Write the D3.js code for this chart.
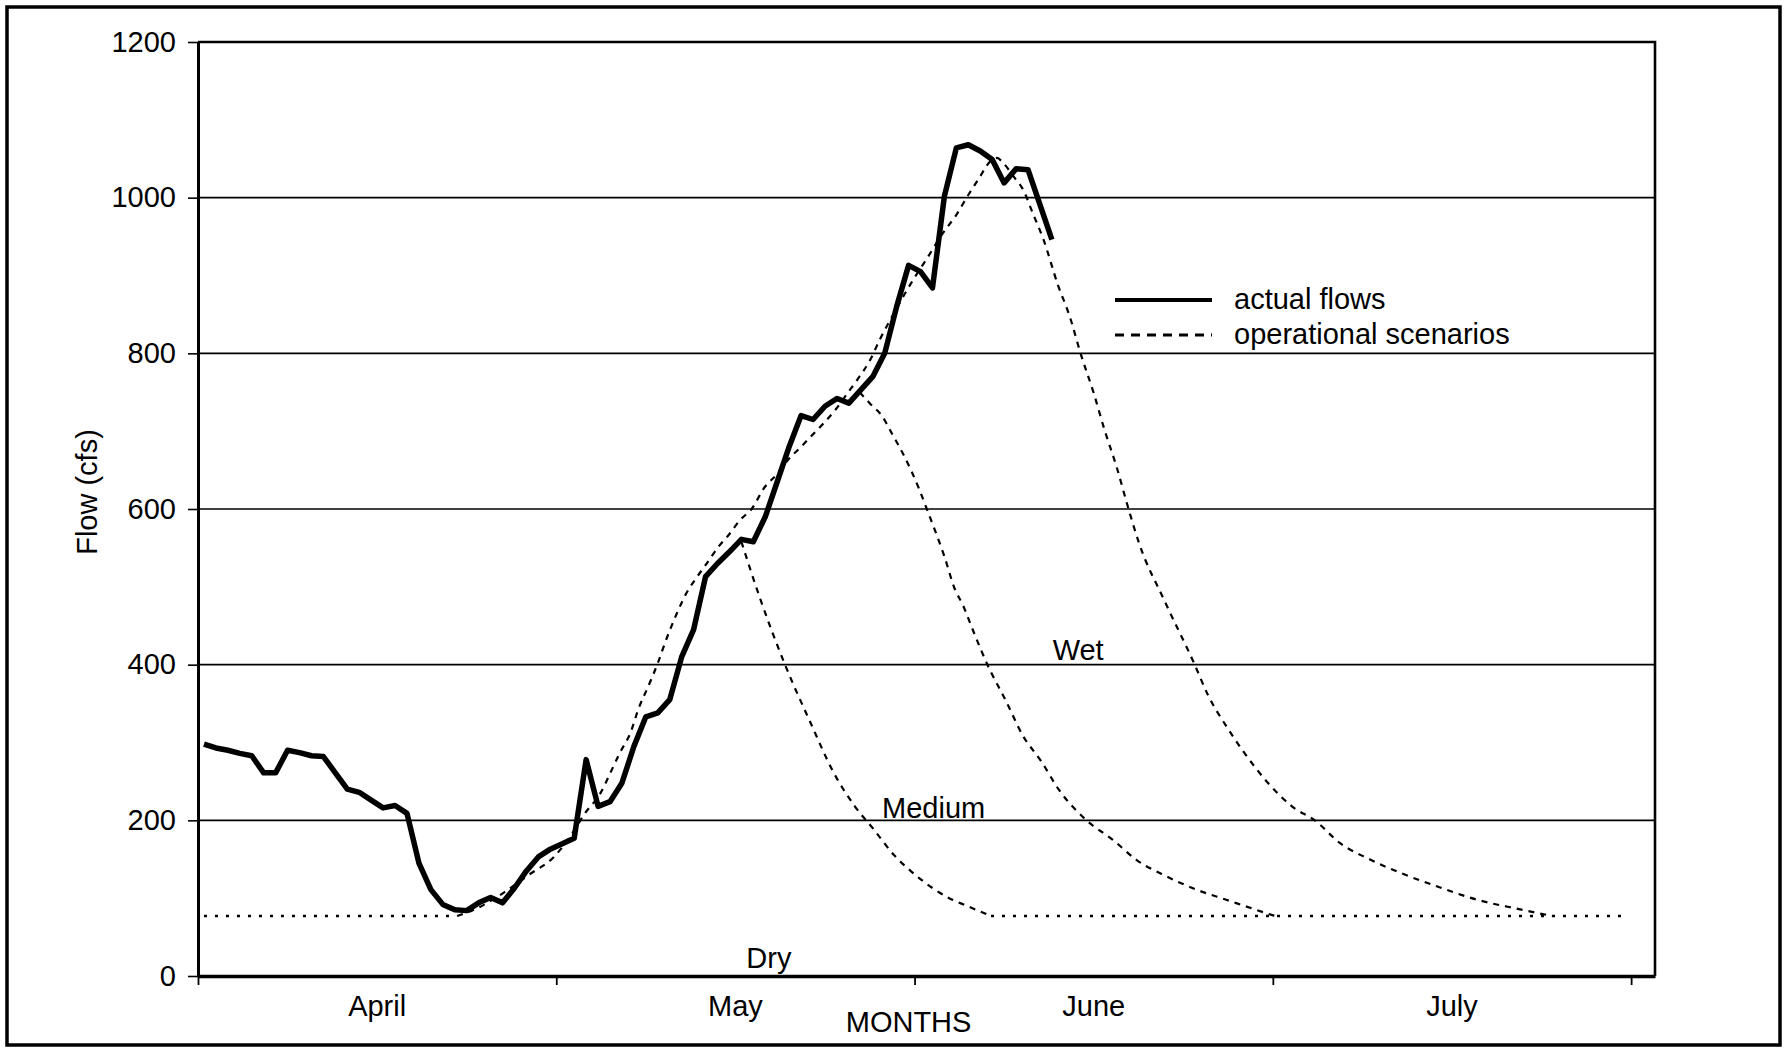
<!DOCTYPE html>
<html>
<head>
<meta charset="utf-8">
<script src="https://cdn.jsdelivr.net/npm/d3@7"></script>
<style>
body { margin: 0; background: #fff; }
text { font-family: "Liberation Sans", Arial, Helvetica, sans-serif; font-size: 29px; fill: #000; }
</style>
</head>
<body>
<svg width="1788" height="1049"></svg>
<script>
// daily flows (one value per day from April 1)
var months = ["April", "May", "June", "July"];
var monthTicks = [0, 30, 60, 90, 120];
var flowTicks = [0, 200, 400, 600, 800, 1000, 1200];

var actualFlows = [
  298, 293, 290, 286, 283, 261, 261, 290, 287, 283,
  282, 261, 240, 236, 226, 216, 219, 209, 145, 111,
   92,  85,  84,  94, 101,  94, 113, 135, 153, 163,
  170, 177, 278, 218, 224, 248, 295, 333, 338, 355,
  410, 445, 513, 530, 545, 561, 558, 590, 635, 680,
  720, 715, 732, 742, 736, 753, 770, 800, 860, 913,
  905, 884, 1002, 1064, 1068, 1060, 1049, 1019, 1037, 1036,
  991, 946
];

// operational scenarios (day, cfs)
var wetDays = [21.7, 23.5, 25.7, 27.7, 29.8, 31.2, 32.4, 33.7, 34.5, 35.3, 36.2, 36.9, 37.7, 38.5, 39.2, 40.1, 40.9, 41.8, 42.6, 43.6,
  44.4, 45.4, 46.4, 47.4, 48.5, 49.4, 50.5, 51.5, 52.5, 53.5, 54.3, 55.2, 56.3, 57.1, 58.4, 59.9, 61.0, 62.4, 63.5, 64.4,
  65.4, 66.3, 66.9, 67.4, 68.3, 69.1, 69.9, 70.8, 72.0, 73.0, 73.9, 75.0, 75.9, 76.9, 77.9, 78.8, 80.9, 83.4, 84.6, 86.1,
  87.6, 89.6, 91.6, 93.6, 95.6, 98.1, 100.6, 103.6, 107.1, 110.6, 113.4];
var wetFlows = [77, 88, 108, 130, 153, 180, 209, 235, 260, 286, 312, 344, 372, 402, 432, 466, 492, 513, 530, 552,
  566, 586, 601, 627, 645, 663, 680, 696, 712, 730, 747, 766, 792, 818, 855, 895, 921, 955, 978, 1001,
  1025, 1046, 1051, 1045, 1027, 1010, 980, 946, 888, 847, 800, 749, 702, 655, 601, 556, 483, 402, 360, 321,
  287, 248, 218, 199, 171, 150, 133, 116, 98, 86, 77];

var mediumDays = [55.4, 56.3, 57.3, 58.1, 59.0, 60.4, 61.0, 62.5, 63.4, 64.0, 65.0, 66.1, 67.6, 69.1, 70.6, 72.1, 74.4, 76.6,
  78.6, 81.1, 83.6, 86.1, 88.6, 90.2];
var mediumFlows = [750, 735, 719, 697, 672, 625, 601, 539, 496, 478, 440, 400, 355, 308, 276, 239, 200, 175,
  149, 128, 111, 98, 85, 77];

var dryDays = [45.5, 47.0, 49.1, 51.3, 53.2, 55.0, 56.6, 58.3, 59.6, 61.6, 62.9, 64.4, 66.4];
var dryFlows = [558, 488, 402, 325, 262, 218, 188, 155, 136, 112, 100, 90, 77];

var minFlowDays = [0.5, 21.7, 66.4, 119.6];
var minFlowValues = [77, 77, 77, 77];

var scenarioLabels = ["Dry", "Medium", "Wet"];

var svg = d3.select("svg"),
    margin = {top: 42, right: 133, bottom: 73, left: 198},
    width = +svg.attr("width") - margin.left - margin.right,
    height = +svg.attr("height") - margin.top - margin.bottom;

svg.append("rect")
    .attr("x", 7).attr("y", 7)
    .attr("width", 1773).attr("height", 1038)
    .attr("fill", "#fff")
    .attr("stroke", "#000")
    .attr("stroke-width", 3.5);

var g = svg.append("g").attr("transform", "translate(" + margin.left + "," + margin.top + ")");

var x = d3.scaleLinear().domain([0, 122]).range([0, width]);
var y = d3.scaleLinear().domain([0, 1200]).range([height, 0]);

// gridlines
g.append("g")
  .selectAll("line")
  .data(flowTicks.slice(1, -1))
  .enter().append("line")
    .attr("x1", 0).attr("x2", width)
    .attr("y1", function(d) { return y(d); })
    .attr("y2", function(d) { return y(d); })
    .attr("stroke", "#000")
    .attr("stroke-width", 1.6);

// plot frame, top and right
g.append("path")
    .attr("d", "M0," + y(1200) + "H" + width + "V" + height)
    .attr("fill", "none")
    .attr("stroke", "#000")
    .attr("stroke-width", 2.6);

var yAxis = g.append("g")
    .call(d3.axisLeft(y).tickValues(flowTicks).tickFormat(d3.format("d"))
      .tickSize(10).tickSizeOuter(0).tickPadding(12));
yAxis.select(".domain").attr("stroke-width", 3);
yAxis.selectAll(".tick line").attr("stroke-width", 1.6);
yAxis.selectAll("text").attr("font-size", null).attr("font-family", null);

var xAxis = g.append("g")
    .attr("transform", "translate(0," + height + ")")
    .call(d3.axisBottom(x).tickValues(monthTicks).tickFormat("").tickSize(9).tickSizeOuter(0));
xAxis.select(".domain").attr("stroke-width", 3.5);
xAxis.selectAll(".tick line").attr("stroke-width", 1.8);

g.selectAll(".month")
  .data(months)
  .enter().append("text")
    .attr("class", "month")
    .attr("x", function(d, i) { return x((monthTicks[i] + monthTicks[i + 1]) / 2); })
    .attr("y", height + 40)
    .attr("text-anchor", "middle")
    .text(function(d) { return d; });

g.append("text")
    .attr("x", x(59.5))
    .attr("y", height + 56)
    .attr("text-anchor", "middle")
    .text("MONTHS");

svg.append("text")
    .attr("transform", "translate(97,492) rotate(-90)")
    .attr("text-anchor", "middle")
    .text("Flow (cfs)");

// scenario lines
var smooth = d3.line()
    .x(function(d) { return x(d[0]); })
    .y(function(d) { return y(d[1]); })
    .curve(d3.curveMonotoneX);

function pairs(days, flows) {
  return days.map(function(d, i) { return [d, flows[i]]; });
}

[pairs(wetDays, wetFlows), pairs(mediumDays, mediumFlows), pairs(dryDays, dryFlows)].forEach(function(s) {
  g.append("path")
      .attr("d", smooth(s))
      .attr("fill", "none")
      .attr("stroke", "#000")
      .attr("stroke-width", 2.2)
      .attr("stroke-dasharray", "6,6");
});

for (var k = 0; k < minFlowDays.length; k += 2) {
  g.append("path")
      .attr("d", smooth([[minFlowDays[k], minFlowValues[k]], [minFlowDays[k + 1], minFlowValues[k + 1]]]))
      .attr("fill", "none")
      .attr("stroke", "#000")
      .attr("stroke-width", 2.6)
      .attr("stroke-dasharray", "3,8");
}

// actual flows
var line = d3.line()
    .x(function(d, i) { return x(i + 0.5); })
    .y(function(d) { return y(d); });

g.append("path")
    .datum(actualFlows)
    .attr("d", line)
    .attr("fill", "none")
    .attr("stroke", "#000")
    .attr("stroke-width", 5.5)
    .attr("stroke-linejoin", "round");

// scenario names
var labelAt = [[47.8, 10], [61.6, 203], [73.7, 406]];
g.selectAll(".scen")
  .data(scenarioLabels)
  .enter().append("text")
    .attr("x", function(d, i) { return x(labelAt[i][0]); })
    .attr("y", function(d, i) { return y(labelAt[i][1]); })
    .attr("text-anchor", "middle")
    .text(function(d) { return d; });

// legend
var legend = svg.append("g").attr("transform", "translate(1115,0)");
legend.append("line")
    .attr("x1", 0).attr("x2", 97).attr("y1", 300).attr("y2", 300)
    .attr("stroke", "#000").attr("stroke-width", 4);
legend.append("line")
    .attr("x1", 0).attr("x2", 97).attr("y1", 335).attr("y2", 335)
    .attr("stroke", "#000").attr("stroke-width", 3).attr("stroke-dasharray", "9,7");
legend.append("text").attr("x", 119).attr("y", 309).text("actual flows");
legend.append("text").attr("x", 119).attr("y", 344).text("operational scenarios");
</script>
</body>
</html>
